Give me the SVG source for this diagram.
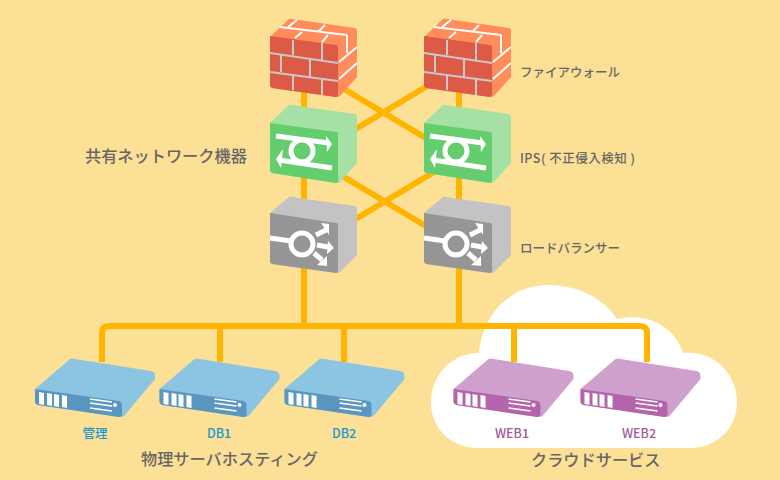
<svg xmlns="http://www.w3.org/2000/svg" xmlns:xlink="http://www.w3.org/1999/xlink" width="780" height="480" viewBox="0 0 780 480">
<style>
text{font-family:"Noto Sans CJK JP","Noto Sans",sans-serif}
.lab{font-size:12.500px;fill:#666;font-weight:500}
.big{font-size:16.200px;fill:#666;font-weight:500}
.blue{font-size:12.500px;fill:#1e96d2;text-anchor:middle;font-weight:500}
.pur{font-size:12.500px;fill:#a35a97;text-anchor:middle;font-weight:500}
.con{fill:none;stroke:#ffb400;stroke-width:6}
.w{fill:#fff}
.ws{fill:none;stroke:#fff;stroke-linejoin:round}
.m{fill:none;stroke:#c9c9c9;stroke-width:2}
</style>
<defs>
<g id="fw">
<path d="M289 19Q290 18 292 19L355 28Q357 29 357 31V77L340 96Q338 97 336 97L272 88Q270 87 270 85V37Z" fill="#ff8c5a"/>
<path d="M270 36L336 45Q338 45 338 47V95Q338 97 336 97L272 88Q270 87 270 85Z" fill="#dc5a46"/>
<path class="m" d="M270 53L338 63M270 72L338 81M293 40V55M322 43V60M281 55V72M310 60V77M293 75V90M322 78V95"/>
<path class="ws" stroke-width="2" d="M280 27L347 35M297 20L288 27M302 32L295 38M328 35L322 42M325 25L319 31M347 35V53M339 62L357 47M339 79L357 63"/>
</g>
<g id="ips">
<path d="M289 105Q290 104 292 105L355 114Q357 115 357 117V163L340 182Q338 183 336 183L272 173Q270 172 270 170V123Z" fill="#a5e1a5"/>
<path d="M270 123L336 132Q338 132 338 134V181Q338 183 336 183L272 173Q270 172 270 170Z" fill="#64cd6e"/>
<circle cx="302" cy="151" r="11" fill="none" stroke="#fff" stroke-width="5"/>
<path class="ws" stroke-width="5" d="M276 136L329 143M332 168L279 160"/>
<path class="w" d="M326 136L332 144L327 152ZM283 149L276 159L281 168Z"/>
</g>
<g id="lb">
<path d="M289 197Q290 196 292 197L355 206Q357 207 357 209V255L340 272Q338 273 336 273L272 264Q270 263 270 261V213Z" fill="#c3c3c3"/>
<path d="M270 213L336 223Q338 223 338 225V271Q338 273 336 273L272 264Q270 263 270 261Z" fill="#969696"/>
<circle cx="302" cy="244" r="11" fill="none" stroke="#fff" stroke-width="5"/>
<path class="ws" stroke-width="5" d="M270 238L291 241M316 235L326 230M317 245L328 247M314 253L322 260"/>
<path class="w" d="M321 223L329 224L329 235ZM328 241L334 248L327 254ZM317 265L327 266L327 256Z"/>
</g>
<g id="srv">
<path d="M70 359Q72 358 75 359L151 371Q155 372 155 376V379L124 416Q122 417 119 417L38 405Q35 404 35 402V389Z" fill="#8cc5e1"/>
<path d="M35 389L119 401Q122 402 122 405V414Q122 417 119 417L38 405Q35 404 35 402Z" fill="#5a96be"/>
<path class="w" d="M39 392L44 393V405L39 404ZM47 393L52 394V406L47 405ZM54 394L59 395V407L54 406ZM62 395L67 396V408L62 407Z"/>
<path class="ws" stroke-width="1.500" d="M90 399L112 402M90 403L112 406M90 408L112 411"/>
<circle cx="115" cy="405" r="2" class="w"/>
</g>
<g id="srvp">
<path d="M70 359Q72 358 75 359L151 371Q155 372 155 376V379L124 416Q122 417 119 417L38 405Q35 404 35 402V389Z" fill="#d0a0cd"/>
<path d="M35 389L119 401Q122 402 122 405V414Q122 417 119 417L38 405Q35 404 35 402Z" fill="#b464aa"/>
<path class="w" d="M39 392L44 393V405L39 404ZM47 393L52 394V406L47 405ZM54 394L59 395V407L54 406ZM62 395L67 396V408L62 407Z"/>
<path class="ws" stroke-width="1.500" d="M90 399L112 402M90 403L112 406M90 408L112 411"/>
<circle cx="115" cy="405" r="2" class="w"/>
</g>
</defs>
<rect width="780" height="480" fill="#fce096"/>
<g id="cloud" fill="#fff">
<path d="M479 353C482 315 510 285 548 285C580 285 605 300 617 319C650 312 675 328 683 353C715 350 737 375 737 402C737 430 715 448 690 448H479C452 448 431 430 431 402C431 375 452 353 479 353Z"/>
</g>
<g id="connectors">
<path class="con" d="M304 60V326M459 60V326M102 362V333Q102 326 109 326H640Q647 326 647 333V362M220 326V362M344 326V362M514 326V362"/>
<path class="con" d="M304 65L459 158M459 67L304 160M304 153L459 246M459 157L304 250"/>
</g>
<g id="fw1"><use href="#fw"/></g>
<g id="fw2"><use href="#fw" x="154"/></g>
<g id="ips1"><use href="#ips"/></g>
<g id="ips2"><use href="#ips" x="154"/></g>
<g id="lb1"><use href="#lb"/></g>
<g id="lb2"><use href="#lb" x="154"/></g>
<g id="s1"><use href="#srv"/><text class="blue" x="95" y="438">管理</text></g>
<g id="s2"><use href="#srv" x="124.500"/><text class="blue" x="219" y="438">DB1</text></g>
<g id="s3"><use href="#srv" x="249.500"/><text class="blue" x="344" y="438">DB2</text></g>
<g id="s4"><use href="#srvp" x="418.500"/><text class="pur" x="512" y="438">WEB1</text></g>
<g id="s5"><use href="#srvp" x="545.500"/><text class="pur" x="639" y="438">WEB2</text></g>
<text class="lab" x="520" y="77">ファイアウォール</text>
<text class="lab" x="520" y="163" letter-spacing="0.500">IPS( 不正侵入検知 )</text>
<text class="lab" x="520" y="253">ロードバランサー</text>
<text class="big" x="85" y="162">共有ネットワーク機器</text>
<text class="big" x="141" y="465">物理サーバホスティング</text>
<text class="big" x="531" y="466">クラウドサービス</text>
</svg>
